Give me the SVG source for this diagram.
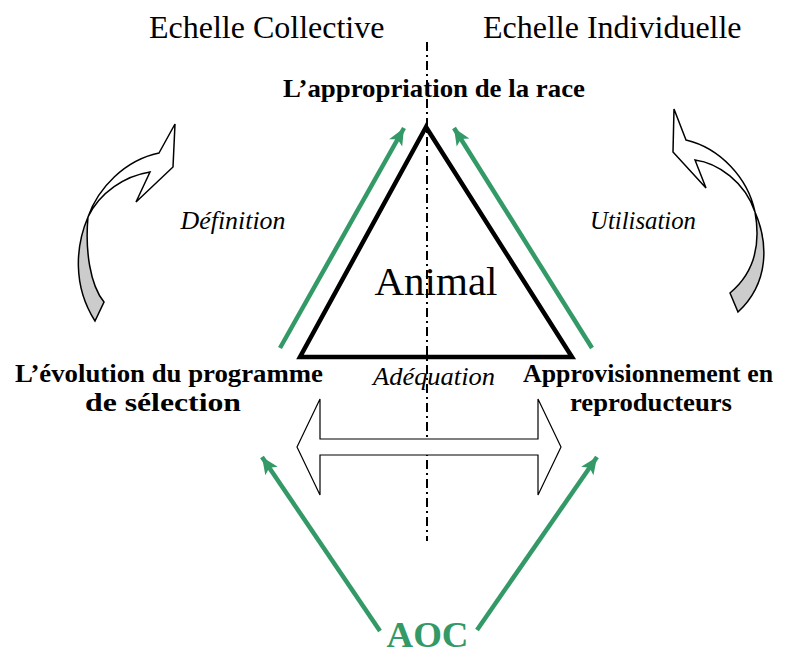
<svg xmlns="http://www.w3.org/2000/svg" width="786" height="655" viewBox="0 0 786 655">
<style>
text{font-family:"Liberation Serif","Times New Roman",serif;fill:#000}
.title{font-size:32px}
.bold{font-size:26px;font-weight:bold}
.ital{font-size:25px;font-style:italic}
.green{stroke:#339966;stroke-width:4.5;fill:none}
.curve{stroke:#000;stroke-width:1.5;stroke-linejoin:miter}
</style>
<defs>
<marker id="ah" markerUnits="userSpaceOnUse" markerWidth="22" markerHeight="18" viewBox="-18 -9 20 18" refX="0" refY="0" orient="auto">
<path d="M0,0 L-17,-7.5 L-13,0 L-17,7.5 Z" fill="#339966"/>
</marker>
</defs>
<rect width="786" height="655" fill="#fff"/>

<g id="axis">
<line x1="427" y1="42" x2="427" y2="541" stroke="#000" stroke-width="2" stroke-dasharray="9 4 2 4"/>
</g>

<g id="scale-labels">
<text class="title" x="149" y="37.5">Echelle Collective</text>
<text class="title" x="483" y="37.5">Echelle Individuelle</text>
</g>

<g id="node-animal">
<polygon points="426,127 300,357 572,357" fill="none" stroke="#000" stroke-width="4.5" stroke-linejoin="miter"/>
<text x="436" y="295" text-anchor="middle" font-size="41">Animal</text>
</g>

<g id="node-appropriation">
<text class="bold" x="434" y="97" text-anchor="middle" textLength="302" lengthAdjust="spacingAndGlyphs">L’appropriation de la race</text>
</g>

<g id="node-evolution">
<text class="bold" x="169" y="382" text-anchor="middle" textLength="308" lengthAdjust="spacingAndGlyphs">L’évolution du programme</text>
<text class="bold" x="163" y="411" text-anchor="middle" textLength="156" lengthAdjust="spacingAndGlyphs">de sélection</text>
</g>

<g id="node-approvisionnement">
<text class="bold" x="648" y="382" text-anchor="middle" textLength="250" lengthAdjust="spacingAndGlyphs">Approvisionnement en</text>
<text class="bold" x="651" y="411" text-anchor="middle" textLength="162" lengthAdjust="spacingAndGlyphs">reproducteurs</text>
</g>

<g id="node-aoc">
<text x="427.5" y="646.5" text-anchor="middle" font-size="36" font-weight="bold" textLength="82" lengthAdjust="spacingAndGlyphs" style="fill:#339966">AOC</text>
</g>

<g id="labels">
<text class="ital" x="233" y="228.5" text-anchor="middle" textLength="105" lengthAdjust="spacingAndGlyphs">Définition</text>
<text class="ital" x="643" y="228.5" text-anchor="middle" textLength="106" lengthAdjust="spacingAndGlyphs">Utilisation</text>
<text class="ital" x="434" y="385" text-anchor="middle" textLength="122" lengthAdjust="spacingAndGlyphs">Adéquation</text>
</g>

<g id="connectors">
<line class="green" x1="280" y1="348" x2="404" y2="128" marker-end="url(#ah)"/>
<line class="green" x1="592" y1="348" x2="454" y2="128" marker-end="url(#ah)"/>
<line class="green" x1="380" y1="631" x2="262" y2="457" marker-end="url(#ah)"/>
<line class="green" x1="477" y1="630" x2="597" y2="457" marker-end="url(#ah)"/>
<polygon points="297,447 320,399 320,439 538,439 538,399 561,447 538,495 538,455 320,455 320,495" fill="#fff" stroke="#000" stroke-width="1.2"/>
<g id="curved-left">
<path class="curve" fill="#cccccc" d="M88,217 C76,245 72,285 95,321 L104,302 C90,285 85,250 88,217 Z"/>
<path class="curve" fill="#fff" d="M159,153 L175,124 L173,167 L136,202 L150,172 C125,176 100,192 88,217 C98,188 125,160 159,153 Z"/>
</g>
<g id="curved-right">
<path class="curve" fill="#cccccc" d="M755,212 C768,242 770,282 738,312 L730,293 C754,273 761,245 755,212 Z"/>
<path class="curve" fill="#fff" d="M686,140 L674,109 L673,152 L706,188 L695,160 C718,163 745,182 755,212 C748,178 720,148 686,140 Z"/>
</g>
</g>
</svg>
